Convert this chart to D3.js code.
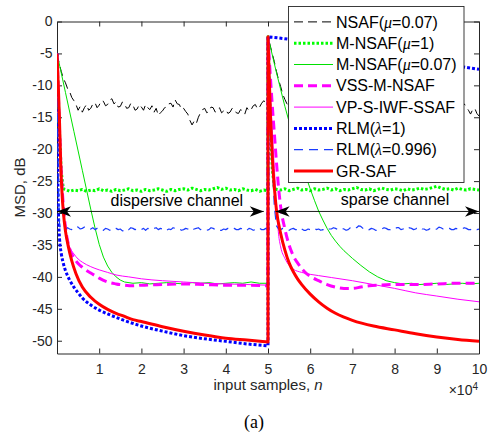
<!DOCTYPE html>
<html><head><meta charset="utf-8">
<script src="https://cdn.jsdelivr.net/npm/d3@7"></script>
<style>body{margin:0;background:#fff}svg{display:block}</style>
</head><body>
<svg id="c" width="492" height="439"></svg>
<script>
// ---------------- DATA (n in units of 10^4 samples, MSD in dB) ----------------
const xTicks = [1,2,3,4,5,6,7,8,9,10];
const yTicks = [0,-5,-10,-15,-20,-25,-30,-35,-40,-45,-50];
const legendLabels = ["NSAF(μ=0.07)","M-NSAF(μ=1)","M-NSAF(μ=0.07)","VSS-M-NSAF","VP-S-IWF-SSAF","RLM(λ=1)","RLM(λ=0.996)","GR-SAF"];

// NSAF(mu=0.07): values every 0.05 from n=0 to n=5, and from n=5 to n=10
const nsafA = [-5.0,-6.5,-7.8,-8.9,-9.6,-10.5,-11.0,-11.9,-12.4,-13.0,-13.9,-13.3,-14.2,-13.5,-13.0,-13.9,-13.6,-12.9,-12.7,-13.5,
  -13.1,-12.4,-12.5,-13.2,-13.0,-12.3,-12.1,-12.9,-12.6,-13.4,-13.3,-12.6,-12.9,-13.6,-13.5,-12.8,-13.1,-13.9,-13.7,-13.0,
  -13.4,-13.9,-13.0,-13.5,-13.8,-13.2,-14.2,-13.6,-14.7,-14.3,-14.0,-13.5,-13.4,-12.9,-12.8,-13.4,-12.3,-12.9,-13.0,-13.8,
  -13.6,-14.1,-14.5,-15.5,-16.2,-15.6,-16.0,-15.0,-14.3,-13.8,-13.6,-14.3,-14.1,-13.4,-13.5,-14.2,-13.9,-13.5,-14.3,-14.0,
  -13.8,-14.4,-14.2,-13.6,-13.7,-14.3,-14.4,-13.8,-14.0,-14.5,-13.5,-14.0,-13.8,-13.2,-13.0,-13.7,-13.4,-12.8,-12.4,-12.9,
  -12.0];
const nsafB = [-2.4,-3.7,-5.0,-6.3,-7.8,-9.1,-10.2,-11.4,-12.2,-12.9,-13.3,-13.9,-13.1,-13.5,-13.8,-13.2,-13.3,-14.1,-14.0,-13.4,
  -13.6,-14.0,-13.2,-13.7,-13.9,-13.3,-13.5,-14.2,-14.1,-13.6,-13.7,-13.1,-13.3,-14.0,-13.8,-14.4,-14.2,-13.5,-13.6,-14.1,
  -13.9,-13.3,-13.4,-14.0,-13.8,-14.5,-14.3,-13.8,-13.7,-13.2,-13.5,-14.1,-14.0,-13.4,-13.6,-13.0,-13.2,-13.9,-13.8,-14.3,
  -14.1,-13.5,-13.7,-13.1,-13.3,-14.0,-13.9,-14.6,-14.4,-13.9,-13.8,-13.3,-13.5,-14.2,-14.0,-13.4,-13.6,-14.3,-14.2,-13.6,
  -13.8,-13.2,-13.4,-14.1,-13.9,-14.5,-14.3,-13.6,-13.7,-14.3,-14.1,-13.4,-13.5,-12.9,-13.4,-13.9,-14.5,-13.8,-13.6,-14.4,
  -14.8];

// M-NSAF(mu=1): transient points, then steady values every 0.1
const mnsaf1HeadA = [[0,-5],[0.05,-16],[0.1,-23.5],[0.15,-26.2]];
const mnsaf1A = [-26.3,-26.6,-26.4,-26.5,-26.3,-26.6,-26.4,-26.5,-26.2,-26.5,
                 -26.4,-26.6,-26.3,-26.5,-26.4,-26.2,-26.5,-26.4,-26.6,-26.3,
                 -26.5,-26.4,-26.2,-26.4,-26.6,-26.3,-26.5,-26.3,-26.2,-26.4,
                 -26.1,-26.3,-26.5,-26.3,-26.4,-26.2,-26.0,-26.3,-26.1,-26.4,
                 -26.3,-26.5,-26.2,-26.4,-26.5,-26.3,-26.6,-26.4,-26.5]; // n=0.2..5.0
const mnsaf1HeadB = [[5.0,-2.4],[5.05,-14],[5.1,-23],[5.15,-26.0],[5.2,-26.3]];
const mnsaf1B = [-26.4,-26.2,-26.5,-26.3,-26.1,-26.4,-26.3,-26.5,-26.2,-26.4,
                 -26.3,-26.1,-26.4,-26.2,-26.5,-26.3,-26.4,-26.2,-26.0,-26.3,
                 -26.4,-26.2,-26.5,-26.3,-26.1,-26.3,-26.4,-26.2,-26.3,-26.5,
                 -26.2,-26.4,-26.3,-26.1,-26.3,-26.2,-26.0,-25.8,-26.1,-26.3,
                 -26.2,-26.4,-26.1,-26.3,-26.4,-26.2,-26.3,-26.4]; // n=5.3..10.0

// M-NSAF(mu=0.07)
const mnsaf007A = [[0,-5],[0.2,-11.1],[0.4,-17.2],[0.6,-23.3],[0.8,-29.4],[0.9,-32.3],[1.0,-34.9],[1.1,-36.9],
  [1.2,-38.3],[1.3,-39.3],[1.4,-40.0],[1.5,-40.5],[1.6,-40.8],[1.8,-41.0],[2.0,-40.9],[2.2,-41.1],[2.4,-41.0],
  [2.6,-40.9],[2.8,-41.0],[3.0,-41.1],[3.2,-40.9],[3.4,-41.0],[3.6,-40.9],[3.8,-41.1],[4.0,-41.0],[4.2,-40.9],
  [4.4,-41.0],[4.6,-40.8],[4.8,-41.0],[5.0,-41.0]];
const mnsaf007B = [[5.0,-2.4],[5.2,-8.0],[5.4,-13.3],[5.6,-18.1],[5.8,-22.4],[6.0,-26.2],[6.1,-28.0],[6.2,-29.7],
  [6.3,-31.1],[6.4,-32.4],[6.5,-33.5],[6.6,-34.4],[6.7,-35.2],[6.8,-35.9],[6.9,-36.5],[7.0,-37.1],[7.2,-38.2],
  [7.4,-39.2],[7.6,-40.0],[7.8,-40.6],[8.0,-40.9],[8.2,-41.1],[8.4,-41.0],[8.6,-41.2],[8.8,-41.1],[9.0,-41.0],
  [9.2,-41.2],[9.4,-41.1],[9.6,-41.0],[9.8,-41.1],[10.0,-41.0]];

// VSS-M-NSAF
const vssA = [[0,-5],[0.03,-11],[0.06,-17],[0.1,-23.5],[0.15,-28.8],[0.2,-32.2],[0.3,-35.6],[0.4,-37.0],[0.5,-37.9],
  [0.6,-38.5],[0.7,-39.0],[0.8,-39.4],[0.9,-39.8],[1.0,-40.2],[1.2,-40.8],[1.4,-41.1],[1.6,-41.3],[1.8,-41.4],
  [2.0,-41.3],[2.5,-41.2],[3.0,-41.1],[3.5,-41.2],[4.0,-41.3],[4.5,-41.3],[5.0,-41.4]];
const vssB = [[5.0,-2.4],[5.05,-8],[5.1,-13],[5.15,-17.5],[5.2,-22],[5.25,-26],[5.3,-29],[5.4,-32.5],[5.5,-35],
  [5.6,-36.7],[5.7,-37.8],[5.8,-38.7],[5.9,-39.4],[6.0,-39.9],[6.2,-40.6],[6.4,-41.2],[6.6,-41.6],[6.8,-41.8],
  [7.0,-41.8],[7.2,-41.6],[7.4,-41.4],[7.6,-41.3],[8.0,-41.2],[8.5,-41.2],[9.0,-41.1],[9.5,-41.0],[10.0,-41.0]];

// VP-S-IWF-SSAF
const vpA = [[0,-5],[0.03,-11.5],[0.06,-17.5],[0.1,-24],[0.15,-29.3],[0.2,-32.8],[0.3,-35.3],[0.4,-36.4],[0.5,-37.2],
  [0.6,-37.7],[0.8,-38.4],[1.0,-38.9],[1.2,-39.3],[1.4,-39.7],[1.7,-40.0],[2.0,-40.3],[2.5,-40.6],[3.0,-40.8],
  [3.5,-41.0],[4.0,-41.1],[4.5,-41.2],[5.0,-41.3]];
const vpB = [[5.0,-2.4],[5.05,-10],[5.1,-17],[5.15,-23],[5.2,-29],[5.25,-33.3],[5.3,-35.3],[5.4,-37.1],[5.5,-38.2],
  [5.6,-38.8],[5.8,-39.3],[6.0,-39.6],[6.2,-39.8],[6.5,-40.1],[7.0,-40.6],[7.5,-41.2],[8.0,-41.8],[8.5,-42.5],
  [9.0,-43.0],[9.5,-43.5],[10.0,-43.9]];

// RLM(lambda=1)
const rlm1A = [[0,-5],[0.01,-15],[0.02,-24],[0.035,-30],[0.06,-34],[0.1,-36.3],[0.15,-37.9],[0.2,-39],[0.3,-40.5],
  [0.4,-41.6],[0.5,-42.5],[0.6,-43.3],[0.8,-44.4],[1.0,-45.2],[1.2,-45.8],[1.5,-46.6],[2.0,-47.7],[2.5,-48.5],
  [3.0,-49.2],[3.5,-49.7],[4.0,-50.1],[4.5,-50.5],[5.0,-50.8]];
const rlm1B = [[5.0,-2.4],[5.4,-2.7],[6.0,-3.4],[6.5,-4.0],[7.0,-4.6],[7.5,-5.1],[8.0,-5.6],[8.5,-6.1],[9.0,-6.6],
  [9.5,-7.0],[10.0,-7.5]];

// RLM(lambda=0.996): transient points, then steady values every 0.05
const rlm996HeadA = [[0,-5],[0.02,-18],[0.04,-28],[0.06,-31.8],[0.08,-32.4]];
const rlm996A = [-32.4,-32.7,-32.6,-32.3,-32.5,-32.6,-32.3,-32.1,-32.2,-32.5,-32.4,-32.2,-32.3,-32.6,-32.5,-32.3,-32.6,-32.4,-32.4,-32.7,
  -32.7,-32.4,-32.5,-32.7,-32.6,-32.3,-32.4,-32.6,-32.5,-32.8,-32.7,-32.4,-32.6,-32.3,-32.4,-32.6,-32.5,-32.7,-32.6,-32.4,
  -32.7,-32.4,-32.5,-32.6,-32.4,-32.3,-32.6,-32.4,-32.5,-32.8,-32.7,-32.5,-32.6,-32.3,-32.4,-32.6,-32.5,-32.7,-32.6,-32.4,
  -32.5,-32.8,-32.7,-32.5,-32.4,-32.3,-32.6,-32.5,-32.5,-32.7,-32.6,-32.3,-32.4,-32.6,-32.5,-32.7,-32.7,-32.5,-32.6,-32.4,
  -32.5,-32.3,-32.4,-32.6,-32.6,-32.4,-32.5,-32.8,-32.7,-32.4,-32.5,-32.7,-32.6,-32.3,-32.4,-32.6,-32.6,-32.4,-32.5]; // n=0.1..5.0
const rlm996HeadB = [[5.0,-2.4],[5.05,-12],[5.1,-22],[5.15,-29],[5.2,-32.0],[5.25,-32.5]];
const rlm996B = [-32.6,-32.4,-32.5,-32.7,-32.7,-32.5,-32.4,-32.6,-32.6,-32.3,-32.5,-32.7,-32.7,-32.5,-32.6,-32.4,-32.4,-32.6,-32.5,-32.7,
  -32.6,-32.8,-32.7,-32.5,-32.5,-32.3,-32.4,-32.6,-32.6,-32.4,-32.5,-32.7,-32.6,-32.3,-32.4,-32.2,-32.3,-32.0,-32.1,-32.4,
  -32.4,-32.7,-32.6,-32.4,-32.5,-32.7,-32.7,-32.5,-32.5,-32.3,-32.4,-32.6,-32.6,-32.4,-32.5,-32.3,-32.3,-32.6,-32.5,-32.4,
  -32.6,-32.3,-32.4,-32.6,-32.5,-32.2,-32.3,-32.5,-32.5,-32.7,-32.6,-32.4,-32.4,-32.6,-32.5,-32.2,-32.3,-32.5,-32.5,-32.3,
  -32.4,-32.6,-32.6,-32.4,-32.5,-32.6,-32.5,-32.3,-32.4,-32.6,-32.6,-32.4,-32.5,-32.6,-32.5]; // n=5.3..10.0

// GR-SAF
const grA = [[0,-5],[0.03,-10],[0.055,-14.6],[0.087,-22],[0.12,-27],[0.15,-29.8],[0.2,-32.8],[0.27,-35.3],[0.35,-37.5],
  [0.45,-39.5],[0.6,-41.6],[0.8,-43.2],[1.0,-44.3],[1.2,-45.1],[1.4,-45.7],[1.6,-46.2],[1.8,-46.7],[2.0,-47.0],
  [2.5,-47.8],[3.0,-48.5],[3.5,-49.1],[4.0,-49.6],[4.5,-49.9],[5.0,-50.2]];
const grB = [[5.0,-2.4],[5.03,-9],[5.06,-15],[5.1,-21],[5.15,-26],[5.2,-29.5],[5.3,-33.2],[5.4,-35.8],[5.5,-37.8],
  [5.6,-39.2],[5.7,-40.3],[5.8,-41.2],[6.0,-42.7],[6.2,-43.9],[6.4,-44.9],[6.6,-45.7],[6.8,-46.3],[7.0,-46.8],
  [7.5,-47.7],[8.0,-48.3],[8.5,-48.9],[9.0,-49.4],[9.5,-49.8],[10.0,-50.1]];

// Annotations
const arrowLevel = -29.75;
const arrowSpans = [[0,4.9],[5.18,10]];
const annotTexts = [{t:"dispersive channel", n:2.84, v:-28.85},{t:"sparse channel", n:8.01, v:-28.7}];

// ---------------- CHART ----------------
const svg = d3.select("#c");
const P = {left:57, right:479, top:21.5, bottom:353.5};
const x = d3.scaleLinear().domain([0,10]).range([P.left,P.right]);
const y = d3.scaleLinear().domain([-52,0]).range([P.bottom,P.top]);
const SANS = "'Liberation Sans', Arial, Helvetica, sans-serif";
const AX = "#262626";

const onGrid = (start, step, vals) => vals.map((v,i) => [Math.round((start + i*step)*1000)/1000, v]);

const series = [
  {a: onGrid(0,0.05,nsafA), b: onGrid(5,0.05,nsafB), smooth:false},
  {a: mnsaf1HeadA.concat(onGrid(0.2,0.1,mnsaf1A)), b: mnsaf1HeadB.concat(onGrid(5.3,0.1,mnsaf1B)), smooth:false},
  {a: mnsaf007A, b: mnsaf007B, smooth:false},
  {a: vssA, b: vssB, smooth:true},
  {a: vpA, b: vpB, smooth:true},
  {a: rlm1A, b: rlm1B, smooth:true},
  {a: rlm996HeadA.concat(onGrid(0.1,0.05,rlm996A)), b: rlm996HeadB.concat(onGrid(5.3,0.05,rlm996B)), smooth:false},
  {a: grA, b: grB, smooth:true}
];
const styles = [
  {color:"#000000", w:1,   dash:"9,5"},
  {color:"#00ff00", w:3,   dash:"2.5,2"},
  {color:"#00e000", w:1,   dash:null},
  {color:"#ff00ff", w:3,   dash:"9,5"},
  {color:"#ff00ff", w:1,   dash:null},
  {color:"#0000ff", w:3,   dash:"3,2"},
  {color:"#1a3cff", w:1.2, dash:"9,6"},
  {color:"#ff0000", w:3,   dash:null}
];

svg.append("rect").attr("width",492).attr("height",439).attr("fill","#fff");
svg.append("defs").append("clipPath").attr("id","clip")
  .append("rect").attr("x",P.left).attr("y",P.top).attr("width",P.right-P.left).attr("height",P.bottom-P.top);

// axes box + ticks
const gAx = svg.append("g");
function styleAxis(g){
  g.attr("font-size",14).attr("font-family",SANS);
  g.select(".domain").attr("stroke",AX).attr("stroke-width",1);
  g.selectAll(".tick line").attr("stroke",AX).attr("stroke-width",1);
  g.selectAll(".tick text").attr("fill",AX);
}
gAx.append("g").attr("transform",`translate(0,${P.bottom})`)
  .call(d3.axisBottom(x).tickValues(xTicks).tickFormat(d3.format("d")).tickSizeInner(-5).tickSizeOuter(0).tickPadding(10.5))
  .call(styleAxis);
gAx.append("g").attr("transform",`translate(0,${P.top})`)
  .call(d3.axisTop(x).tickValues(xTicks).tickFormat("").tickSizeInner(-5).tickSizeOuter(0))
  .call(styleAxis);
gAx.append("g").attr("transform",`translate(${P.left},0)`)
  .call(d3.axisLeft(y).tickValues(yTicks).tickFormat(d=>String(d)).tickSizeInner(-5).tickSizeOuter(0).tickPadding(4.5))
  .call(styleAxis);
gAx.append("g").attr("transform",`translate(${P.right},0)`)
  .call(d3.axisRight(y).tickValues(yTicks).tickFormat("").tickSizeInner(-5).tickSizeOuter(0))
  .call(styleAxis);

// curves
const gL = svg.append("g").attr("clip-path","url(#clip)");
function pathFor(s){
  const ln = d3.line().x(d=>x(d[0])).y(d=>y(d[1])).curve(s.smooth ? d3.curveMonotoneX : d3.curveLinear);
  const pa = ln(s.a), pb = ln(s.b);
  return pa + "L" + pb.slice(1);
}
series.forEach((s,i)=>{
  const st = styles[i];
  gL.append("path").attr("d",pathFor(s)).attr("fill","none")
    .attr("stroke",st.color).attr("stroke-width",st.w)
    .attr("stroke-dasharray",st.dash).attr("stroke-linejoin","round");
});

// annotations: double arrows
const gA = svg.append("g");
function head(tx,ty,dir){ // dir -1 = pointing left, +1 = pointing right
  const L=14, Wd=5.3, N=10;
  return `M${tx},${ty}L${tx-dir*L},${ty-Wd}L${tx-dir*N},${ty}L${tx-dir*L},${ty+Wd}Z`;
}
arrowSpans.forEach(sp=>{
  const x0=x(sp[0]), x1=x(sp[1]), yy=y(arrowLevel);
  gA.append("line").attr("x1",x0).attr("x2",x1).attr("y1",yy).attr("y2",yy).attr("stroke","#000").attr("stroke-width",0.9);
  gA.append("path").attr("d",head(x0,yy,-1)).attr("fill","#000");
  gA.append("path").attr("d",head(x1,yy,1)).attr("fill","#000");
});
annotTexts.forEach(a=>{
  gA.append("text").attr("x",x(a.n)).attr("y",y(a.v)).attr("text-anchor","middle")
    .attr("font-family",SANS).attr("font-size",16).attr("fill","#000").text(a.t);
});

// axis labels
svg.append("text").attr("transform",`translate(25,${(P.top+P.bottom)/2}) rotate(-90)`)
  .attr("text-anchor","middle").attr("font-family",SANS).attr("font-size",15).attr("fill",AX).text("MSD, dB");
const xl = svg.append("text").attr("x",(P.left+P.right)/2).attr("y",390).attr("text-anchor","middle")
  .attr("font-family",SANS).attr("font-size",15).attr("fill",AX);
xl.append("tspan").text("input samples, ");
xl.append("tspan").attr("font-style","italic").text("n");
const ex = svg.append("text").attr("x",P.right-1).attr("y",395).attr("text-anchor","end")
  .attr("font-family",SANS).attr("font-size",14).attr("fill",AX);
ex.append("tspan").text("×10");
ex.append("tspan").attr("font-size",10).attr("dy",-5).text("4");
svg.append("text").attr("x",254).attr("y",428).attr("text-anchor","middle")
  .attr("font-family","'Liberation Serif','Times New Roman',serif").attr("font-size",18).attr("fill","#000").text("(a)");

// legend
const LG = {x:288.5, y:6.5, w:175.5, h:176, row0:21.9, dy:21.3, l0:294, l1:333, tx:336};
const gLeg = svg.append("g");
gLeg.append("rect").attr("x",LG.x).attr("y",LG.y).attr("width",LG.w).attr("height",LG.h)
  .attr("fill","#fff").attr("stroke",AX).attr("stroke-width",0.9);
legendLabels.forEach((lab,i)=>{
  const st = styles[i], yy = LG.row0 + i*LG.dy;
  gLeg.append("line").attr("x1",LG.l0).attr("x2",LG.l1).attr("y1",yy).attr("y2",yy)
    .attr("stroke",st.color).attr("stroke-width",st.w).attr("stroke-dasharray",st.dash);
  const t = gLeg.append("text").attr("x",LG.tx).attr("y",yy+5.6)
    .attr("font-family",SANS).attr("font-size",16).attr("fill","#000");
  lab.split(/([μλ])/).forEach(part=>{
    if(!part) return;
    const sp = t.append("tspan").text(part);
    if(part==="μ"||part==="λ") sp.attr("font-style","italic").attr("font-family","'Liberation Serif','Times New Roman',serif");
  });
});
</script>
</body></html>
